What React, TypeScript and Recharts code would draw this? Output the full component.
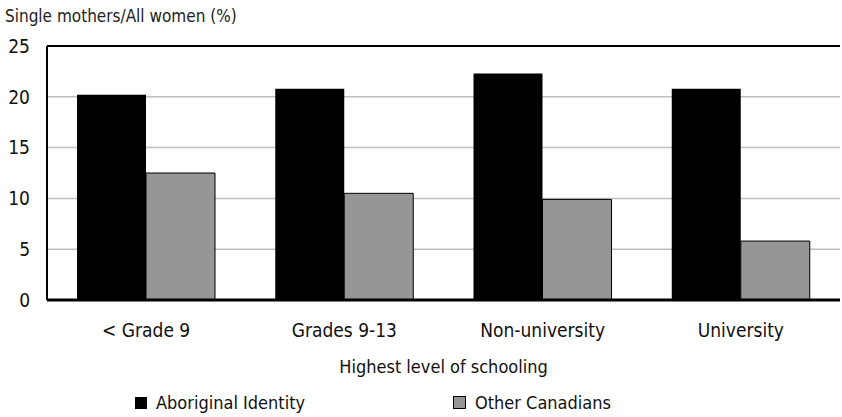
import React from 'react';
import {
  BarChart, Bar, XAxis, YAxis, CartesianGrid, ReferenceLine, Label
} from 'recharts';

const categories = ['< Grade 9', 'Grades 9-13', 'Non-university', 'University'];
const aboriginal = [20.2, 20.8, 22.3, 20.8];
const otherCanadians = [12.5, 10.5, 9.9, 5.8];
const yTicks = [0, 5, 10, 15, 20, 25];

const FONT = '"Liberation Sans Narrow", "DejaVu Sans Condensed", sans-serif';

const chartData = categories.map((name, i) => ({
  name,
  aboriginal: aboriginal[i],
  other: otherCanadians[i],
}));

const App: React.FC = () => {
  return (
    <div style={{ position: 'absolute', left: 0, top: 0, width: 842, height: 417, background: '#fff', fontFamily: FONT }}>
      <div style={{ position: 'absolute', left: 5, top: 6, fontSize: 17, color: '#222' }}>
        Single mothers/All women (%)
      </div>
      <BarChart
        width={842}
        height={417}
        data={chartData}
        margin={{ top: 46, right: 2, left: 0, bottom: 87 }}
        barCategoryGap={30}
        barGap={0}
      >
        <CartesianGrid vertical={false} stroke="#c0c0c0" strokeWidth={1.5} />
        <XAxis
          dataKey="name"
          axisLine={{ stroke: '#000', strokeWidth: 3 }}
          tickLine={false}
          tickSize={0}
          tickMargin={24}
          tick={{ fontSize: 19, fill: '#111', fontFamily: FONT }}
        >
          <Label value="Highest level of schooling" position="insideBottom" offset={-43} style={{ fontSize: 18, fill: '#111', fontFamily: FONT }} />
        </XAxis>
        <YAxis
          domain={[0, 25]}
          ticks={yTicks}
          width={47}
          axisLine={{ stroke: '#000', strokeWidth: 2 }}
          tickLine={false}
          tickSize={0}
          tickMargin={17}
          tick={{ fontSize: 19, fill: '#111', fontFamily: FONT }}
        />
        <ReferenceLine y={25} stroke="#000" strokeWidth={2} />
        <Bar dataKey="aboriginal" fill="#000" isAnimationActive={false} />
        <Bar dataKey="other" fill="#969696" stroke="#000" strokeWidth={1} isAnimationActive={false} />
      </BarChart>
      <div style={{ position: 'absolute', left: 135, top: 392, fontSize: 18, color: '#111', display: 'flex', alignItems: 'center' }}>
        <span style={{ display: 'inline-block', width: 12, height: 12, background: '#000', marginRight: 9 }} />
        Aboriginal Identity
      </div>
      <div style={{ position: 'absolute', left: 453, top: 392, fontSize: 18, color: '#111', display: 'flex', alignItems: 'center' }}>
        <span style={{ display: 'inline-block', width: 11, height: 11, background: '#969696', border: '1px solid #000', marginRight: 9 }} />
        Other Canadians
      </div>
    </div>
  );
};

export default App;
